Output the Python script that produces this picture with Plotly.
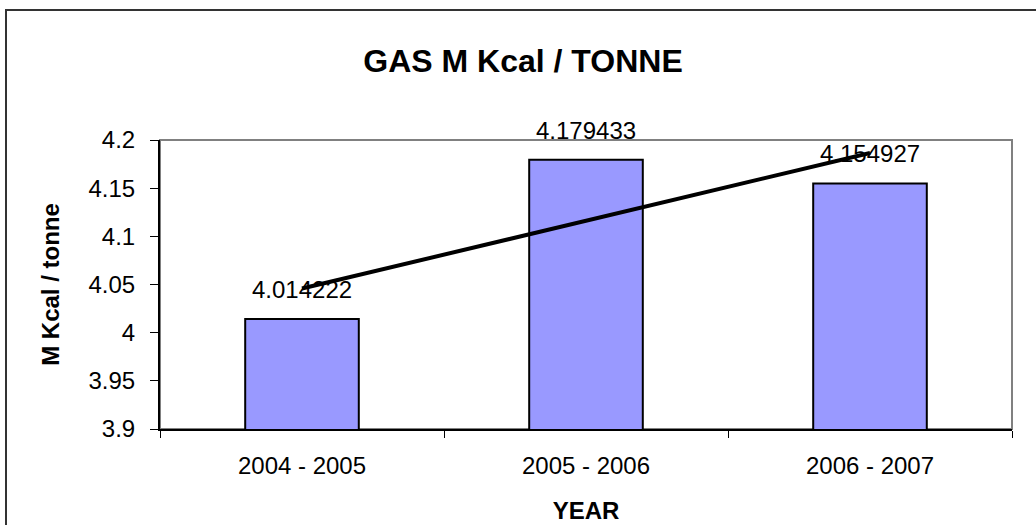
import numpy as np
import plotly.graph_objects as go

categories = ["2004 - 2005", "2005 - 2006", "2006 - 2007"]
values = [4.014222, 4.179433, 4.154927]
value_labels = ["4.014222", "4.179433", "4.154927"]
y_ticks = [3.9, 3.95, 4.0, 4.05, 4.1, 4.15, 4.2]
y_tick_labels = ["3.9", "3.95", "4", "4.05", "4.1", "4.15", "4.2"]

# linear trendline through the bar values
idx = np.arange(len(values))
slope, intercept = np.polyfit(idx, values, 1)
trend = [intercept + slope * i for i in (idx[0], idx[-1])]

FONT = "Arial, Liberation Sans, sans-serif"
W, H = 1036, 525
L, R, T, B = 160, 24, 140, 96
pw, ph = W - L - R, H - T - B

def px_x(p):
    return (p - L) / pw

def px_y(p):
    return (H - B - p) / ph

fig = go.Figure()
fig.add_trace(go.Bar(
    x=categories, y=values, width=0.4,
    marker=dict(color="#9999FF", line=dict(color="black", width=2)),
    hoverinfo="skip", showlegend=False,
))
fig.add_trace(go.Scatter(
    x=[categories[0], categories[-1]], y=trend, mode="lines",
    line=dict(color="black", width=4), showlegend=False, hoverinfo="skip",
    cliponaxis=False,
))

for c, v, t in zip(categories, values, value_labels):
    fig.add_annotation(x=c, y=v, text=t, showarrow=False, yanchor="bottom",
                       yshift=14, font=dict(family=FONT, size=24, color="black"))

shapes = [
    # plot area frame (gray)
    dict(type="rect", xref="paper", yref="paper", x0=0, x1=1, y0=0, y1=1,
         line=dict(color="#808080", width=2), layer="below"),
    # chart outer border
    dict(type="rect", xref="paper", yref="paper",
         x0=px_x(6), x1=px_x(1045), y0=px_y(535), y1=px_y(10),
         line=dict(color="#333333", width=2), layer="below"),
]

fig.update_layout(
    width=W, height=H,
    margin=dict(l=L, r=R, t=T, b=B, autoexpand=False),
    paper_bgcolor="white", plot_bgcolor="white",
    font=dict(family=FONT, color="black"),
    shapes=shapes,
    title=dict(text="<b>GAS M Kcal / TONNE</b>", xref="paper", x=px_x(523),
               xanchor="center", y=1 - 61 / H, yanchor="middle",
               font=dict(family=FONT, size=32, color="black")),
    xaxis=dict(
        type="category", showgrid=False, showline=True, linecolor="black",
        linewidth=2, ticks="outside", tickson="boundaries", ticklen=7,
        tickcolor="black", tickwidth=1, tickfont=dict(family=FONT, size=24),
        ticklabelstandoff=14, automargin=False,
        title=dict(text="<b>YEAR</b>", font=dict(family=FONT, size=24), standoff=24),
        zeroline=False, range=[-0.5, 2.5],
    ),
    yaxis=dict(
        range=[3.9, 4.2], tickvals=y_ticks, ticktext=y_tick_labels,
        showgrid=False, showline=True, linecolor="black", linewidth=2,
        ticks="outside", ticklen=8, tickcolor="black", tickwidth=1,
        tickfont=dict(family=FONT, size=24), ticklabelstandoff=10, automargin=False,
        title=dict(text="<b>M Kcal / tonne</b>", font=dict(family=FONT, size=24),
                   standoff=22),
        zeroline=False,
    ),
)

fig.write_html("out.html", config={"displayModeBar": False},
               post_script="document.body.style.margin='0';")
